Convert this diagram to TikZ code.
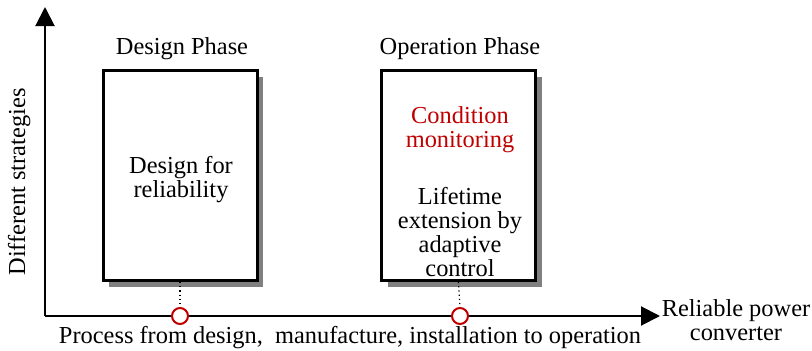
\documentclass[tikz,border=0pt]{standalone}
\usepackage{fontspec}
\setmainfont{Liberation Serif}
\usetikzlibrary{arrows.meta,shadows}
\definecolor{cred}{RGB}{192,0,0}
\definecolor{shadowgray}{RGB}{128,128,128}
\begin{document}
\begin{tikzpicture}[x=1pt,y=-1pt,
  font=\fontsize{24.4}{24}\selectfont,
  axisline/.style={line width=2pt, -{Triangle[length=19pt,width=19pt]}},
  phasebox/.style={draw, line width=3pt, fill=white, inner sep=0pt,
    minimum width=154pt, minimum height=210pt,
    drop shadow={shadow xshift=6pt, shadow yshift=-6pt, opacity=1, fill=shadowgray}},
  marker/.style={circle, draw=cred, line width=2pt, fill=white, inner sep=0pt, minimum size=16pt},
  linkdots/.style={line width=1.2pt, dash pattern=on 1.2pt off 3pt},
  lbl/.style={align=center, inner sep=0pt}]
\useasboundingbox (0,0) rectangle (812,351);
% axes
\coordinate (O) at (45,316);
\coordinate (ytip) at (45,7);
\coordinate (xtip) at (660,316);
\draw[axisline] (O) -- (ytip);
\draw[axisline] (O) -- (xtip);
% boxes
\node[phasebox] (design) at (180,175.5) {};
\node[phasebox] (oper) at (458.5,175.5) {};
% markers
\node[marker] (m1) at (180,316) {};
\node[marker] (m2) at (460,316) {};
\draw[linkdots] (design.south) -- (m1.north);
\draw[linkdots] (oper.south) -- (m2.north);
% texts
\node[lbl, anchor=base] (t1) at (182,54) {Design Phase};
\node[lbl, anchor=base] (t2) at (460,54) {Operation Phase};
\node[lbl] (t3) at (181,180) {Design for\\reliability};
\node[lbl, text=cred] (t4) at (460,130) {Condition\\monitoring};
\node[lbl] (t5) at (460,232) {Lifetime\\extension by\\adaptive\\control};
\node[lbl, anchor=base] (t6) at (350,343) {Process from design,\ \ manufacture, installation to operation};
\node[lbl] (t7) at (736,320) {Reliable power\\converter};
\node[lbl, anchor=base, rotate=90] (t8) at (25,182) {Different strategies};
\end{tikzpicture}
\end{document}
